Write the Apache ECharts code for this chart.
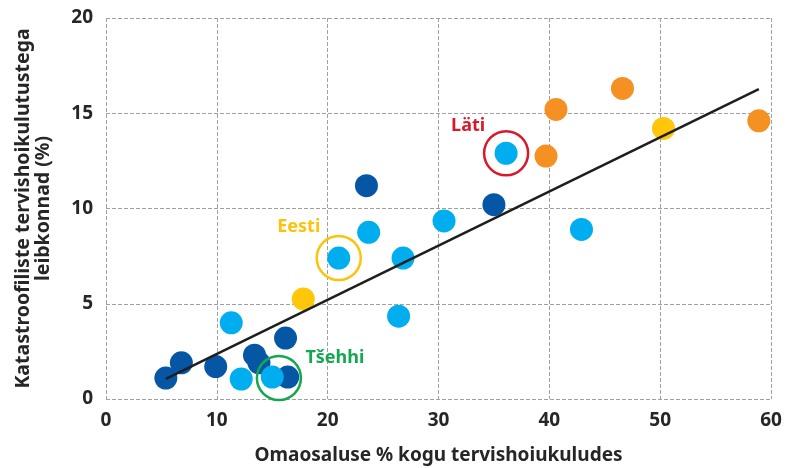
<!DOCTYPE html>
<html>
<head>
<meta charset="utf-8">
<script src="https://cdn.jsdelivr.net/npm/echarts@6/dist/echarts.min.js"></script>
<style>
  html, body { margin: 0; padding: 0; background: #fff; }
  #chart { width: 799px; height: 468px; }
</style>
</head>
<body>
<div id="chart"></div>
<script>
// andmed: [omaosalus %, katastroofiliste kulutustega leibkonnad %]
var darkBlue = [[5.4, 1.1], [6.8, 1.9], [9.9, 1.7], [13.8, 1.9], [13.4, 2.3], [16.2, 3.2], [16.4, 1.15], [23.5, 11.2], [35.0, 10.2]];
var lightBlue = [[11.3, 4.0], [12.2, 1.05], [15.0, 1.15], [21.0, 7.4], [23.7, 8.75], [26.8, 7.4], [26.4, 4.35], [30.5, 9.35], [36.1, 12.9], [42.9, 8.9]];
var yellow = [[17.8, 5.25], [50.3, 14.2]];
var orange = [[39.7, 12.75], [40.6, 15.2], [46.6, 16.3], [58.9, 14.6]];
var trend = [[5.4, 1.05], [58.9, 16.27]];
var highlights = [
  { name: "Läti", value: [36.1, 12.9], color: "#d71a2b", offset: [-38, -27] },
  { name: "Eesti", value: [21.0, 7.4], color: "#fcc30b", offset: [-40, -31] },
  { name: "Tšehhi", value: [15.6, 1.1], color: "#13a850", offset: [56, -20] }
];
var xTicks = [0, 10, 20, 30, 40, 50, 60];
var yTicks = [0, 5, 10, 15, 20];

var font = "Noto Sans";
var textColor = "#262626";

function dots(data, color) {
  return {
    type: "scatter",
    data: data,
    symbolSize: 23,
    itemStyle: { color: color, opacity: 1 },
    z: 2
  };
}

var myChart = echarts.init(document.getElementById("chart"));
var option = {
  animation: false,
  grid: { left: 106, right: 28, top: 18, bottom: 69, containLabel: false, outerBoundsMode: "none" },
  xAxis: {
    type: "value",
    min: xTicks[0],
    max: xTicks[xTicks.length - 1],
    interval: 10,
    name: "Omaosaluse % kogu tervishoiukuludes",
    nameLocation: "middle",
    nameGap: 47,
    nameTextStyle: { fontFamily: font, fontWeight: "bold", fontSize: 19, color: textColor },
    axisLine: { show: false },
    axisTick: { show: false },
    axisLabel: { fontFamily: font, fontWeight: "bold", fontSize: 19, color: textColor, margin: 12 },
    splitLine: { show: true, lineStyle: { type: "dashed", color: "#a0a0a0", width: 1 } }
  },
  yAxis: {
    type: "value",
    min: yTicks[0],
    max: yTicks[yTicks.length - 1],
    interval: 5,
    name: "Katastroofiliste tervishoikulutustega\nleibkonnad (%)",
    nameLocation: "middle",
    nameGap: 53,
    nameTextStyle: { fontFamily: font, fontWeight: "bold", fontSize: 19.5, color: textColor, lineHeight: 20 },
    axisLine: { show: false },
    axisTick: { show: false },
    axisLabel: { fontFamily: font, fontWeight: "bold", fontSize: 19, color: textColor, margin: 13 },
    splitLine: { show: true, lineStyle: { type: "dashed", color: "#a0a0a0", width: 1 } }
  },
  series: [
    dots(darkBlue, "#0557a6"),
    dots(lightBlue, "#00aeef"),
    dots(yellow, "#ffc60b"),
    dots(orange, "#f59122"),
    {
      type: "line",
      data: trend,
      symbol: "none",
      lineStyle: { color: "#1e1e1e", width: 2.5 },
      z: 3
    },
    {
      type: "scatter",
      symbolSize: 44,
      z: 4,
      data: highlights.map(function (h) {
        return {
          name: h.name,
          value: h.value,
          itemStyle: { color: "rgba(0,0,0,0)", borderColor: h.color, borderWidth: 2.5, opacity: 1 },
          label: {
            show: true,
            position: "inside",
            offset: h.offset,
            formatter: "{b}",
            fontFamily: font,
            fontWeight: "bold",
            fontSize: 18,
            color: h.color
          }
        };
      })
    }
  ]
};
myChart.setOption(option);
</script>
</body>
</html>
